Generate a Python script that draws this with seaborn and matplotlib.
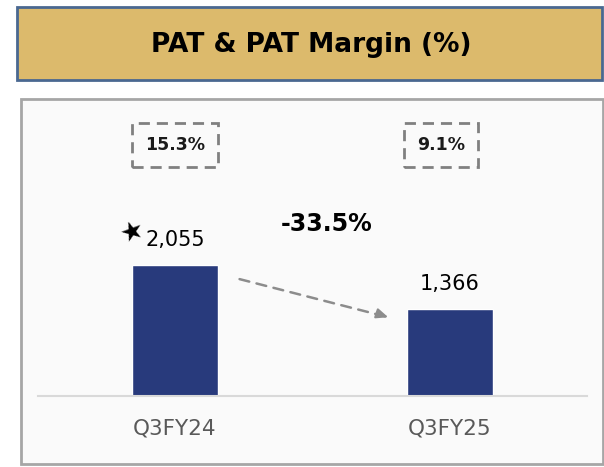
import matplotlib
matplotlib.use("Agg")
import matplotlib.pyplot as plt
from matplotlib.patches import Rectangle
import seaborn as sns
import pandas as pd

# data
quarters = ["Q3FY24", "Q3FY25"]
pat = [2055, 1366]
margins = [15.3, 9.1]
change = (pat[1] / pat[0] - 1) * 100

df = pd.DataFrame({"Quarter": quarters, "PAT": pat})

sns.set_style("white")
plt.rcParams["font.family"] = ["DejaVu Sans"]

W, H = 604, 467
fig = plt.figure(figsize=(W / 100, H / 100), dpi=100)
fig.patch.set_facecolor("white")

# header band
fig.patches.append(Rectangle((17 / W, 1 - 80 / H), 585 / W, 73 / H, transform=fig.transFigure,
                             facecolor="#DCBA6C", edgecolor="#4A6891", linewidth=2, zorder=-1))
fig.text(311 / W, 1 - 45 / H, "PAT & PAT Margin (%)", ha="center", va="center",
         fontsize=19, fontweight="bold", color="black")

# chart panel
fig.patches.append(Rectangle((21 / W, 1 - 464 / H), 582 / W, 365 / H, transform=fig.transFigure,
                             facecolor="#FAFAFA", edgecolor="#A6A6A6", linewidth=2, zorder=-1))

ax = fig.add_axes([38 / W, 1 - 396 / H, 549 / W, 286 / H])
ax.set_zorder(2)
ax.set_facecolor("none")
sns.barplot(data=df, x="Quarter", y="PAT", color="#283A7C", width=0.313, saturation=1, ax=ax)
ax.set_xlim(-0.498, 1.498)
ax.set_ylim(0, 4500)

for s in ["top", "left", "right"]:
    ax.spines[s].set_visible(False)
ax.spines["bottom"].set_color("#D9D9D9")
ax.spines["bottom"].set_linewidth(1.5)
ax.set_yticks([])
ax.set_xlabel("")
ax.set_ylabel("")
ax.tick_params(axis="x", length=0, pad=16, labelsize=15.5, labelcolor="#595959")

# value labels
for i, v in enumerate(pat):
    ax.annotate(f"{v:,}", xy=(i, v), xytext=(0, 18), textcoords="offset points",
                ha="center", va="center", fontsize=15, color="black")

# star next to first value
ax.annotate("★", xy=(0, pat[0]), xytext=(-31, 24), textcoords="offset points",
            ha="center", va="center", fontsize=19, color="black", rotation=20)

# margin boxes
trans = ax.get_xaxis_transform()
for i, m in enumerate(margins):
    ax.text(i - 0.033 * (i == 1), 0.878, f"{m}%", transform=trans, ha="center", va="center",
            fontsize=12.5, fontweight="bold", color="#1A1A1A",
            bbox=dict(boxstyle="square,pad=0.75", facecolor="none", edgecolor="#808080",
                      linestyle=(0, (4, 2.5)), linewidth=2))

# change label and arrow
ax.text(0.553, 0.60, f"{change:.1f}%", transform=trans, ha="center", va="center",
        fontsize=17, fontweight="bold", color="black")
ax.annotate("", xy=(0.775, 1240), xytext=(0.225, 1850),
            arrowprops=dict(arrowstyle="-", color="#8C8C8C", linestyle=(0, (4, 3)), linewidth=1.8))
ax.annotate("", xy=(0.785, 1225), xytext=(0.74, 1290),
            arrowprops=dict(arrowstyle="-|>,head_length=0.7,head_width=0.3", color="#8C8C8C",
                            linewidth=1.5))

fig.savefig("out.png", dpi=100)
